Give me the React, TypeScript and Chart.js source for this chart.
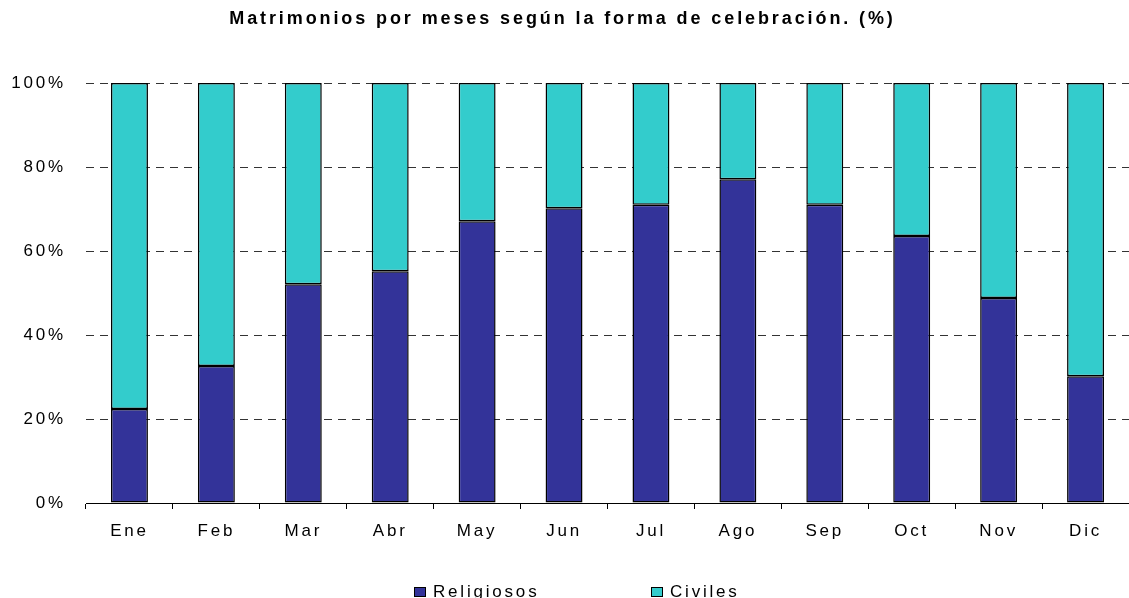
import React, { useEffect, useRef } from "react";
import { Chart, registerables } from "chart.js";

Chart.register(...registerables);

const TITLE = "Matrimonios por meses según la forma de celebración. (%)";
const CATEGORIES = ["Ene", "Feb", "Mar", "Abr", "May", "Jun", "Jul", "Ago", "Sep", "Oct", "Nov", "Dic"];
const RELIGIOSOS = [22.4, 32.6, 52.1, 55.2, 67.1, 70.2, 71.0, 77.1, 71.0, 63.6, 48.8, 30.2];
const CIVILES = [77.6, 67.4, 47.9, 44.8, 32.9, 29.8, 29.0, 22.9, 29.0, 36.4, 51.2, 69.8];
const SERIES_NAMES = ["Religiosos", "Civiles"];
const SERIES_COLORS = ["#333399", "#33CCCC"];
const Y_TICKS_STEP = 20;

const W = 1129;
const H = 598;
const FONT = '"Liberation Sans", Arial, sans-serif';
const LEGEND_X = [414, 651];

const spacingPlugin = {
  id: "spacing",
  beforeUpdate(chart: any) {
    (chart.ctx as any).letterSpacing = "2.8px";
  },
  beforeDraw(chart: any) {
    (chart.ctx as any).letterSpacing = "2.8px";
  },
};

const titleLegendPlugin = {
  id: "titleLegend",
  afterDraw(chart: any) {
    const ctx = chart.ctx;
    ctx.save();
    (ctx as any).letterSpacing = "2.9px";
    ctx.font = `bold 18px ${FONT}`;
    ctx.fillStyle = "#000";
    ctx.textAlign = "center";
    ctx.textBaseline = "middle";
    ctx.fillText(TITLE, chart.width / 2 - 2, 19);

    (ctx as any).letterSpacing = "2.8px";
    ctx.font = `17px ${FONT}`;
    ctx.textAlign = "left";
    ctx.textBaseline = "alphabetic";
    SERIES_NAMES.forEach((name, i) => {
      const x = LEGEND_X[i];
      ctx.fillStyle = SERIES_COLORS[i];
      ctx.fillRect(x, 587, 12, 10);
      ctx.strokeStyle = "#000";
      ctx.lineWidth = 1;
      ctx.strokeRect(x + 0.5, 587.5, 11, 9);
      ctx.fillStyle = "#000";
      ctx.fillText(name, x + 19, 597);
    });
    ctx.restore();
  },
};

export default function App() {
  const ref = useRef<HTMLCanvasElement | null>(null);
  useEffect(() => {
    if (!ref.current) return;
    const chart = new Chart(ref.current, {
      type: "bar",
      data: {
        labels: CATEGORIES,
        datasets: [
          {
            label: SERIES_NAMES[0],
            data: RELIGIOSOS,
            backgroundColor: SERIES_COLORS[0],
            borderColor: "#000",
            borderWidth: 1.5,
            borderSkipped: false,
            barPercentage: 0.425,
            categoryPercentage: 1,
          },
          {
            label: SERIES_NAMES[1],
            data: CIVILES,
            backgroundColor: SERIES_COLORS[1],
            borderColor: "#000",
            borderWidth: 1.5,
            borderSkipped: false,
            barPercentage: 0.425,
            categoryPercentage: 1,
          },
        ],
      },
      options: {
        responsive: false,
        animation: false,
        layout: { padding: { top: 83, bottom: 0, left: 0, right: 0 } },
        plugins: {
          legend: { display: false },
          title: { display: false },
          tooltip: { enabled: false },
        },
        scales: {
          x: {
            stacked: true,
            grid: {
              display: true,
              drawOnChartArea: false,
              drawTicks: true,
              tickLength: 6,
              color: "#000",
              offset: true,
            },
            border: { display: true, color: "#000", width: 1 },
            ticks: {
              color: "#000",
              font: { family: FONT, size: 17 },
              padding: 12,
              maxRotation: 0,
            },
            afterFit: (s: any) => {
              s.height = 95;
            },
          },
          y: {
            stacked: true,
            min: 0,
            max: 100,
            grid: {
              color: "#333",
              lineWidth: 1,
              drawTicks: false,
            },
            border: { display: false, dash: [8, 6] },
            ticks: {
              stepSize: Y_TICKS_STEP,
              color: "#000",
              font: { family: FONT, size: 17 },
              padding: 20,
              callback: (v: any) => `${v}%`,
            },
            afterFit: (s: any) => {
              s.width = 86;
            },
          },
        },
      },
      plugins: [spacingPlugin, titleLegendPlugin],
    });
    return () => chart.destroy();
  }, []);
  return (
    <div style={{ position: "absolute", left: 0, top: 0, width: W, height: H, background: "#fff" }}>
      <canvas ref={ref} width={W} height={H} style={{ display: "block" }} />
    </div>
  );
}
